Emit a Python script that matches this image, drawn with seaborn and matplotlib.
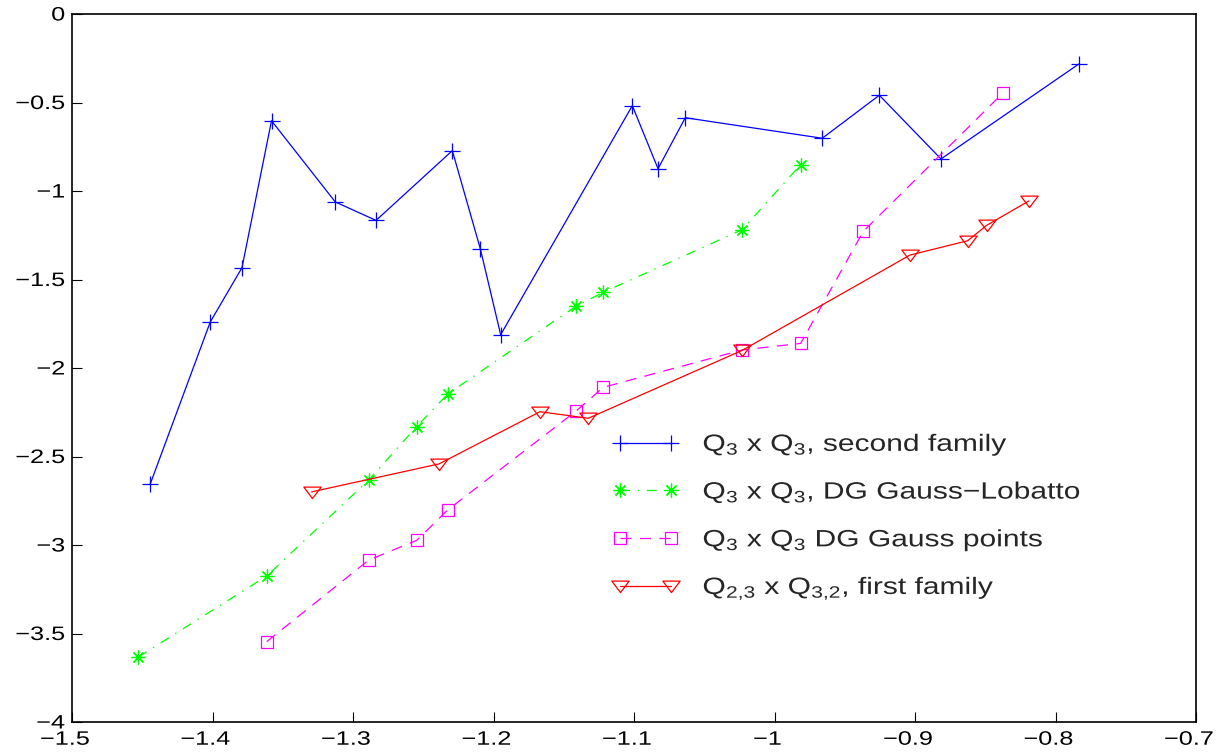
import matplotlib
matplotlib.use("Agg")
import matplotlib.pyplot as plt
import seaborn as sns
import pandas as pd
from matplotlib.patheffects import AbstractPathEffect
from matplotlib.transforms import Affine2D
from matplotlib.path import Path

# ---- data ----
x_second = [-1.4443, -1.4016, -1.3790, -1.3580, -1.3126, -1.2836, -1.2293, -1.2094,
            -1.1949, -1.1012, -1.0829, -1.0635, -0.9660, -0.9254, -0.8815, -0.7833]
y_second = [-2.655, -1.740, -1.433, -0.603, -1.062, -1.166, -0.772, -1.326,
            -1.812, -0.518, -0.874, -0.586, -0.702, -0.459, -0.819, -0.282]

x_lobatto = [-1.4528, -1.3614, -1.2888, -1.2547, -1.2326, -1.1415, -1.1218, -1.0229, -0.9814]
y_lobatto = [-3.633, -3.175, -2.633, -2.331, -2.147, -1.652, -1.572, -1.218, -0.851]

x_gauss = [-1.3614, -1.2888, -1.2547, -1.2326, -1.1415, -1.1218, -1.0229, -0.9814, -0.9368, -0.8371]
y_gauss = [-3.546, -3.085, -2.974, -2.802, -2.245, -2.109, -1.898, -1.861, -1.228, -0.444]

x_first = [-1.3295, -1.2388, -1.1669, -1.1325, -1.0229, -0.9036, -0.8625, -0.8490, -0.8189]
y_first = [-2.700, -2.542, -2.247, -2.284, -1.900, -1.362, -1.281, -1.194, -1.056]

labels = [r"$Q_3$ x $Q_3$, second family",
          r"$Q_3$ x $Q_3$, DG Gauss−Lobatto",
          r"$Q_3$ x $Q_3$ DG Gauss points",
          r"$Q_{2{,}3}$ x $Q_{3{,}2}$, first family"]

x_ticks = [-1.5, -1.4, -1.3, -1.2, -1.1, -1.0, -0.9, -0.8, -0.7]
x_ticklabels = ["−1.5", "−1.4", "−1.3", "−1.2", "−1.1", "−1", "−0.9", "−0.8", "−0.7"]
y_ticks = [0, -0.5, -1, -1.5, -2, -2.5, -3, -3.5, -4]
y_ticklabels = ["0", "−0.5", "−1", "−1.5", "−2", "−2.5", "−3", "−3.5", "−4"]


class HStretch(AbstractPathEffect):
    """Draw text glyphs stretched horizontally about a pivot (optional pixel shift)."""
    def __init__(self, sx, anchor="left", dx=0.0):
        super().__init__()
        self.sx = sx
        self.anchor = anchor
        self.dx = dx

    def draw_path(self, renderer, gc, tpath, affine, rgbFace=None):
        ext = tpath.get_extents()
        if self.anchor == "left":
            p = ext.x0
        elif self.anchor == "right":
            p = ext.x1
        else:
            p = 0.5 * (ext.x0 + ext.x1)
        t = (Affine2D().translate(-p, 0).scale(self.sx, 1).translate(p, 0)
             + affine + Affine2D().translate(self.dx, 0))
        renderer.draw_path(gc, tpath, t, rgbFace)


# ---- style ----
sns.set_theme(style="white")
plt.rcParams["font.family"] = ["Liberation Sans", "DejaVu Sans"]
plt.rcParams["mathtext.fontset"] = "custom"
plt.rcParams["mathtext.rm"] = "Liberation Sans"
plt.rcParams["mathtext.it"] = "Liberation Sans"
plt.rcParams["mathtext.default"] = "regular"
plt.rcParams["lines.scale_dashes"] = False

fig = plt.figure(figsize=(12.17, 7.52), dpi=100)
ax = fig.add_axes([72 / 1217, 1 - 722 / 752, (1196 - 72) / 1217, (722 - 14) / 752])

tri = Path([(-1, 0.62), (1, 0.62), (0, -0.7), (-1, 0.62)],
           [Path.MOVETO, Path.LINETO, Path.LINETO, Path.CLOSEPOLY])

series = [
    (x_second, y_second, "#0000ff", "+", "-", 11, None),
    (x_lobatto, y_lobatto, "#00ff00", (8, 2, 0), (0, (7, 5.5, 1, 5.5)), 10, None),
    (x_gauss, y_gauss, "#ff00ff", "s", (0, (8, 6)), 9, "none"),
    (x_first, y_first, "#ff0000", tri, "-", 12.5, "none"),
]

for (xs, ys, col, mk, ls, ms, mfc), lab in zip(series, labels):
    df = pd.DataFrame({"x": xs, "y": ys})
    kw = dict(marker=mk, markersize=ms, markeredgewidth=0.9, color=col,
              markeredgecolor=col, linewidth=0.9, linestyle=ls)
    if mfc is not None:
        kw["markerfacecolor"] = mfc
    sns.lineplot(data=df, x="x", y="y", sort=False, ax=ax, label=lab, **kw)

ax.set_xlim(-1.5, -0.7)
ax.set_ylim(-4, 0)
ax.set_xticks(x_ticks)
ax.set_xticklabels(x_ticklabels)
ax.set_yticks(y_ticks)
ax.set_yticklabels(y_ticklabels)
ax.set_xlabel("")
ax.set_ylabel("")
ax.tick_params(axis="both", direction="in", length=7, width=0.8, labelsize=14,
               colors="black", bottom=True, left=True, top=False, right=False)
ax.tick_params(axis="x", pad=7)
ax.tick_params(axis="y", pad=5)
for s in ax.spines.values():
    s.set_color("black")
    s.set_linewidth(1.2)

for lbl in ax.get_xticklabels():
    lbl.set_path_effects([HStretch(1.3, "center", dx=-7)])
for lbl in ax.get_yticklabels():
    lbl.set_path_effects([HStretch(1.3, "right")])

leg = ax.legend(loc="upper left", bbox_to_anchor=(613 / 1217, 1 - 432 / 752),
                bbox_transform=fig.transFigure, frameon=False, fontsize=17,
                numpoints=2, handlelength=2.75, handletextpad=1.05,
                labelspacing=0.92, borderpad=0, borderaxespad=0)
for t in leg.get_texts():
    t.set_path_effects([HStretch(1.27, "left")])

fig.savefig("out.png", dpi=100)
